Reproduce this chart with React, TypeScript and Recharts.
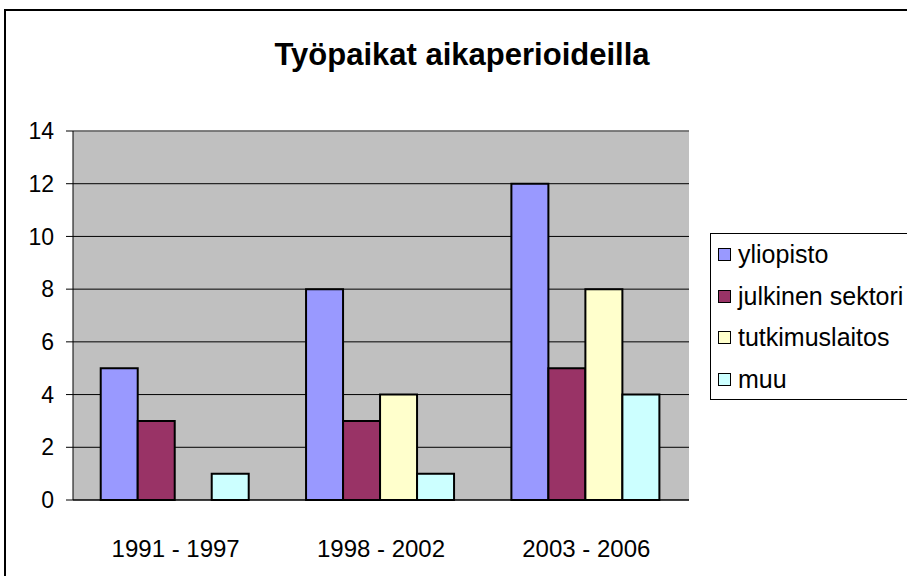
import React from "react";
import {
  BarChart,
  Bar,
  XAxis,
  YAxis,
  CartesianGrid,
  Legend,
  ReferenceLine,
} from "recharts";

const periods = ["1991 - 1997", "1998 - 2002", "2003 - 2006"];
const yliopisto = [5, 8, 12];
const julkinenSektori = [3, 3, 5];
const tutkimuslaitos = [0, 4, 8];
const muu = [1, 1, 4];
const yTicks = [0, 2, 4, 6, 8, 10, 12, 14];
const boundaryTicks = [0, 1, 2, 3];

const seriesNames = ["yliopisto", "julkinen sektori", "tutkimuslaitos", "muu"];
const seriesColors = ["#9999FF", "#993366", "#FFFFCC", "#CCFFFF"];

const data = periods.map((p, i) => ({
  period: p,
  yliopisto: yliopisto[i],
  "julkinen sektori": julkinenSektori[i],
  tutkimuslaitos: tutkimuslaitos[i],
  muu: muu[i],
}));

const FONT = "'Liberation Sans', Arial, sans-serif";

const LegendBox = () => (
  <div
    style={{
      position: "relative",
      width: 197,
      height: 167,
      overflow: "hidden",
      fontFamily: FONT,
      fontSize: 25,
      color: "#000",
    }}
  >
    <div
      style={{
        position: "absolute",
        left: 0,
        top: 0,
        width: 260,
        height: 167,
        border: "1px solid #000",
        boxSizing: "border-box",
        background: "#fff",
      }}
    />
    <div style={{ position: "absolute", left: 0, top: 1 }}>
      {seriesNames.map((n, i) => (
        <div
          key={n}
          style={{
            display: "flex",
            alignItems: "center",
            height: 41.5,
            paddingLeft: 8,
            whiteSpace: "nowrap",
          }}
        >
          <span
            style={{
              display: "inline-block",
              width: 11,
              height: 11,
              border: "1.5px solid #000",
              background: seriesColors[i],
              marginRight: 7,
              flexShrink: 0,
            }}
          />
          <span>{n}</span>
        </div>
      ))}
    </div>
  </div>
);

export default function App() {
  return (
    <div
      style={{
        position: "absolute",
        left: 0,
        top: 0,
        width: 907,
        height: 576,
        overflow: "hidden",
        background: "#fff",
      }}
    >
      <div
        style={{
          position: "absolute",
          left: 4,
          top: 9,
          width: 1000,
          height: 700,
          border: "2px solid #000",
        }}
      />
      <div
        style={{
          position: "absolute",
          left: 0,
          top: 37,
          width: 924,
          textAlign: "center",
          fontFamily: FONT,
          fontWeight: "bold",
          fontSize: 31,
          color: "#000",
        }}
      >
        Työpaikat aikaperioideilla
      </div>
      <div style={{ position: "absolute", left: 0, top: 0 }}>
        <BarChart
          width={907}
          height={576}
          data={data}
          margin={{ top: 131, right: 218, bottom: 0, left: 0 }}
          barCategoryGap="13.5%"
          barGap={0}
        >
          <CartesianGrid
            vertical={false}
            stroke="#000"
            fill="#C0C0C0"
            fillOpacity={1}
          />
          <XAxis
            xAxisId="b"
            type="number"
            domain={[0, 3]}
            ticks={boundaryTicks}
            tick={false}
            tickSize={7}
            tickLine={{ stroke: "#000" }}
            axisLine={false}
            height={1}
          />
          <XAxis
            dataKey="period"
            tickLine={false}
            axisLine={{ stroke: "#000" }}
            tick={{ fill: "#000", fontSize: 24, fontFamily: FONT }}
            tickMargin={34}
            height={75}
            interval={0}
          />
          <YAxis
            domain={[0, 14]}
            ticks={yTicks}
            width={73}
            tickSize={7}
            tickMargin={12}
            axisLine={{ stroke: "#000" }}
            tickLine={{ stroke: "#000" }}
            tick={{ fill: "#000", fontSize: 23, fontFamily: FONT }}
            interval={0}
          />
          <ReferenceLine y={14} stroke="#808080" strokeWidth={1.5} />
          <ReferenceLine xAxisId="b" x={3} stroke="#808080" strokeWidth={1.5} />
          <Legend
            layout="vertical"
            align="center"
            verticalAlign="middle"
            wrapperStyle={{ left: 710, top: 233, width: 197, height: 167 }}
            content={() => <LegendBox />}
          />
          {seriesNames.map((n, i) => (
            <Bar
              key={n}
              dataKey={n}
              fill={seriesColors[i]}
              stroke="#000"
              strokeWidth={2}
              isAnimationActive={false}
            />
          ))}
        </BarChart>
      </div>
    </div>
  );
}
